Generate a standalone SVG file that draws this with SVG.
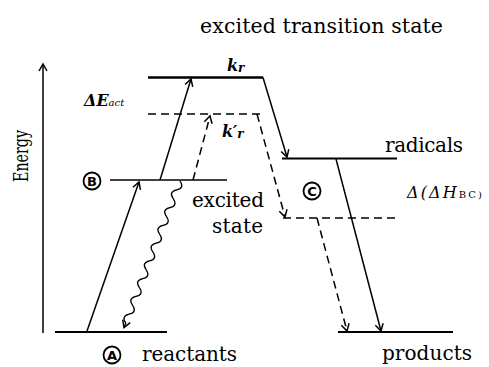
<svg xmlns="http://www.w3.org/2000/svg" width="489" height="367" viewBox="0 0 489 367">
<style>
text{font-family:"DejaVu Serif","Liberation Serif",serif;fill:#000}
.it{font-style:italic}
.lv{stroke:#000;fill:none}
.dash{stroke-dasharray:8 5}
.ar{stroke:#000;stroke-width:1.5;fill:none;marker-end:url(#ah)}
.cl{fill:none;stroke:#000;stroke-width:1.8}
text.cl-t{font-family:"DejaVu Sans","Liberation Sans",sans-serif;font-size:13px;font-weight:bold;text-anchor:middle}
</style>
<defs>
<marker id="ah" markerUnits="userSpaceOnUse" markerWidth="20" markerHeight="20" viewBox="-10 -10 20 20" refX="0" refY="0" orient="auto" overflow="visible">
<path d="M-7,-4 L0,0 L-7,4" fill="none" stroke="#000" stroke-width="1.5"/>
</marker>
</defs>
<rect width="489" height="367" fill="#fff"/>

<g id="axis">
<line class="ar" x1="43" y1="333" x2="43" y2="64"/>
<text font-size="21" text-anchor="middle" textLength="52" lengthAdjust="spacingAndGlyphs" transform="translate(28,156) rotate(-90)">Energy</text>
</g>

<g id="title">
<text x="200" y="33" font-size="20.5" textLength="243">excited transition state</text>
</g>

<g id="transition-state">
<line class="lv" x1="148" y1="77.5" x2="263" y2="77.5" stroke-width="2.5"/>
<text class="it" x="227" y="71" font-size="16" font-weight="bold">k<tspan font-size="12" dy="1">r</tspan></text>
</g>

<g id="excited-ts-level">
<line class="lv dash" x1="148" y1="114" x2="260" y2="114" stroke-width="1.5"/>
<text class="it" x="222" y="137" font-size="16" font-weight="bold">k′<tspan font-size="12" dy="1">r</tspan></text>
<text class="it" x="84" y="106" font-size="16" font-weight="bold">ΔE<tspan font-size="10" font-weight="normal">act</tspan></text>
</g>

<g id="excited-state">
<line class="lv" x1="110" y1="180" x2="227" y2="180" stroke-width="1.5"/>
<circle class="cl" cx="92" cy="181" r="8.5"/>
<text class="cl-t" x="92" y="185.5">B</text>
<text x="192" y="207" font-size="20" textLength="72">excited</text>
<text x="212" y="233" font-size="20" textLength="51">state</text>
</g>

<g id="reactants">
<line class="lv" x1="55" y1="332" x2="167" y2="332" stroke-width="1.8"/>
<circle class="cl" cx="112" cy="355" r="8.5"/>
<text class="cl-t" x="112" y="359.5">A</text>
<text x="142" y="361" font-size="20" textLength="95">reactants</text>
</g>

<g id="radicals">
<line class="lv" x1="282" y1="158.5" x2="397" y2="158.5" stroke-width="2"/>
<text x="385" y="152" font-size="20" textLength="78">radicals</text>
<circle class="cl" cx="312" cy="191" r="8.5"/>
<text class="cl-t" x="312" y="195.5">C</text>
</g>

<g id="excited-radicals-level">
<line class="lv dash" x1="283" y1="218" x2="397" y2="218" stroke-width="1.5"/>
<text class="it" x="407" y="198" font-size="16" textLength="75">Δ(ΔH<tspan font-style="normal" font-size="10">BC)</tspan></text>
</g>

<g id="products">
<line class="lv" x1="338" y1="332" x2="453" y2="332" stroke-width="2.2"/>
<text x="382" y="360" font-size="20" textLength="90">products</text>
</g>

<g id="connectors">
<line class="ar" x1="87" y1="331" x2="139" y2="182"/>
<line class="ar" x1="160" y1="180" x2="191" y2="79"/>
<line class="ar dash" x1="193" y1="180" x2="210" y2="116"/>
<line class="ar" x1="263" y1="77.5" x2="287" y2="157"/>
<line class="ar dash" x1="257" y1="114" x2="285" y2="217"/>
<line class="ar" x1="336" y1="159" x2="381" y2="331"/>
<line class="ar dash" x1="317" y1="218" x2="347" y2="331"/>
<g transform="translate(180,181) rotate(110.9)">
<path d="M0,0 q4.75,-7 9.5,0 t9.5,0 t9.5,0 t9.5,0 t9.5,0 t9.5,0 t9.5,0 t9.5,0 t9.5,0 t9.5,0 t9.5,0 t9.5,0 t9.5,0 t9.5,0 t9.5,0 t9.5,0 l5,0" fill="none" stroke="#000" stroke-width="1.3"/>
<path d="M150,-4 L157,0 L150,4" fill="none" stroke="#000" stroke-width="1.5"/>
</g>
</g>
</svg>
